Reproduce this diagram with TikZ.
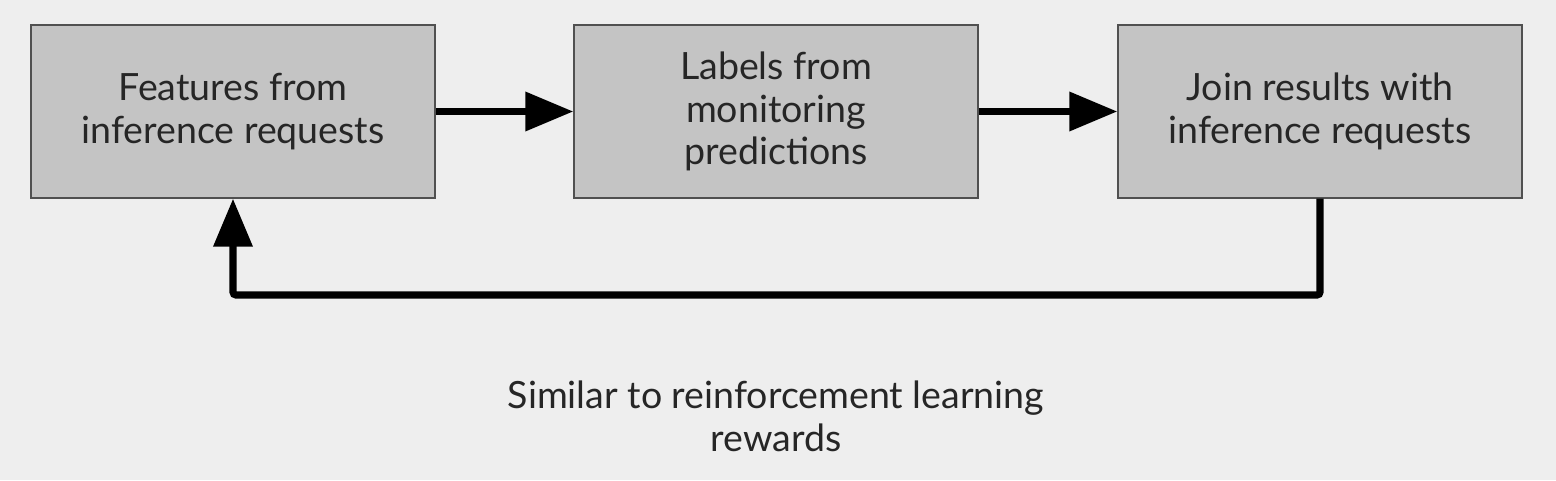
\documentclass[tikz,border=0pt]{standalone}
\usepackage{fontspec}
\setmainfont{Lato}
\usepackage{tikz}
\usetikzlibrary{arrows.meta,positioning,calc}

\definecolor{bggray}{HTML}{EEEEEE}
\definecolor{boxgray}{HTML}{C4C4C4}
\definecolor{edgegray}{HTML}{505050}

\begin{document}
\begin{tikzpicture}[
    stagebox/.style={draw=edgegray, line width=1pt, fill=boxgray, minimum width=10.1cm, minimum height=4.325cm, inner sep=0pt, align=center, font=\fontsize{26.7}{30.5}\selectfont, text=black!85},
    flow/.style={line width=5pt, -{Triangle[length=1.2cm, width=0.95cm]}}
]
    \fill[bggray] (0, 0) rectangle (38.9, 12);

    % Pipeline stages
    \node[stagebox] (features) at (5.825, 9.2125) {Features from\\inference requests};
    \node[stagebox] (labels) at (19.4, 9.2125) {Labels from\\monitoring\\predictions};
    \node[stagebox] (join) at (33.0, 9.2125) {Join results with\\inference requests};

    \draw[flow] (features) -- (labels);
    \draw[flow] (labels) -- (join);

    % Feedback loop
    \coordinate (loop) at (0, 4.625);
    \draw[flow, rounded corners=2pt] (join.south) |- (loop -| features.south) -- (features.south);

    \node[font=\fontsize{26.7}{30.5}\selectfont, text=black!85, align=center] (note) at (19.4, 1.6) {Similar to reinforcement learning\\rewards};
\end{tikzpicture}
\end{document}
